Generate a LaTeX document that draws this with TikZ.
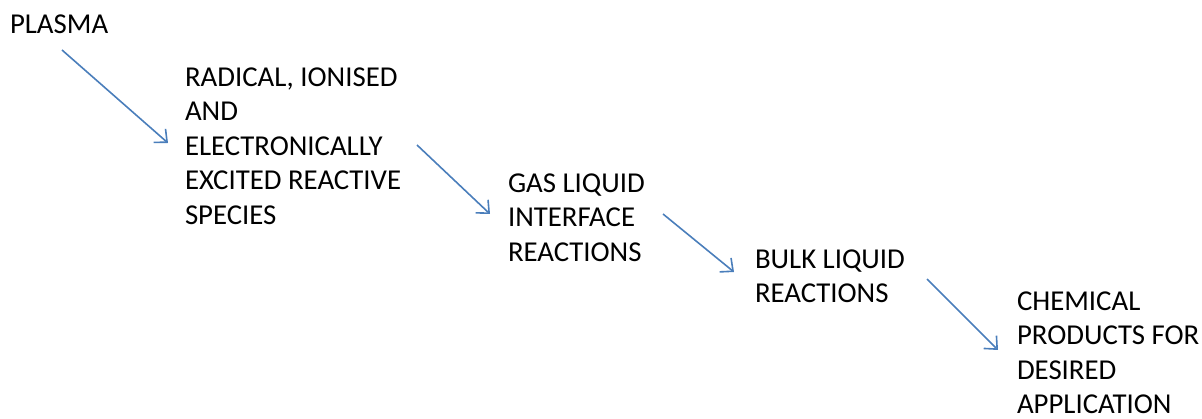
\documentclass[tikz,border=0pt]{standalone}
\usepackage{fontspec}
\setmainfont{Carlito}
\usetikzlibrary{arrows.meta}
\definecolor{arrowblue}{HTML}{4A7EBB}
\tikzset{
  label text/.style={anchor=north west, inner sep=0pt, outer sep=0pt, align=left,
    font=\fontsize{28.8}{34.5}\selectfont, text=black},
  flow/.style={draw=arrowblue, line width=1.6pt,
    -{Straight Barb[length=10pt,width=18pt,line width=1.6pt]}}
}
\begin{document}
\begin{tikzpicture}[x=1pt,y=-1pt]
\useasboundingbox (0,0) rectangle (1202,419);
\node[label text] (plasma) at (10,14.5) {PLASMA};
\node[label text] (radical) at (185,67.5) {RADICAL, IONISED\\AND\\ELECTRONICALLY\\EXCITED REACTIVE\\SPECIES};
\node[label text] (gas) at (508,173.5) {GAS LIQUID\\INTERFACE\\REACTIONS};
\node[label text] (bulk) at (755,249.5) {BULK LIQUID\\REACTIONS};
\node[label text] (chem) at (1017,291.5) {CHEMICAL\\PRODUCTS FOR\\DESIRED\\APPLICATION};
\draw[flow] ([shift={(52,35.5)}]plasma.north west) -- ([shift={(-17,75.5)}]radical.north west);
\draw[flow] ([shift={(232,77.5)}]radical.north west) -- ([shift={(-18,40.5)}]gas.north west);
\draw[flow] ([shift={(155,40.5)}]gas.north west) -- ([shift={(-21,22.5)}]bulk.north west);
\draw[flow] ([shift={(172,29.5)}]bulk.north west) -- ([shift={(-19,58.5)}]chem.north west);
\end{tikzpicture}
\end{document}
